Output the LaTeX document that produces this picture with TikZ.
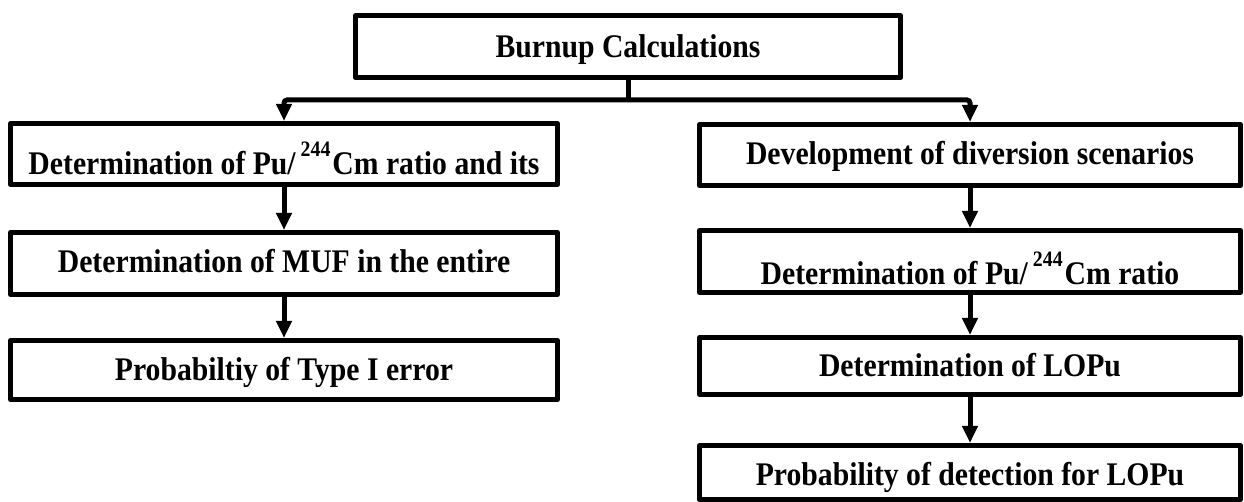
\documentclass[tikz,border=0pt]{standalone}
\usepackage{fontspec}
\setmainfont{Liberation Serif}[FakeStretch=0.9]
\usetikzlibrary{arrows.meta}
\newcommand\isotope[1]{\hspace{2.5pt}\raisebox{9pt}{\fontsize{11}{11}\selectfont #1}\hspace{1pt}}
\tikzset{
  box/.style={draw, line width=2.5pt, line join=round, inner sep=0pt, align=center,
    font=\fontsize{16.5pt}{18pt}\selectfont\bfseries, text depth=0pt, text height=10pt},
  lbox/.style={box, minimum width=273.5pt},
  rbox/.style={box, minimum width=270.5pt},
  conn/.style={line width=2.5pt, rounded corners=1.5pt},
  arr/.style={conn, -{Triangle[length=8.5pt,width=7.5pt]}},
}
\begin{document}
\begin{tikzpicture}[x=0.5pt,y=-0.5pt]
\useasboundingbox (0,0) rectangle (1244,502);
\node[box, minimum width=272.5pt, minimum height=31pt, text height=11pt] (top) at (628,46.5) {Burnup Calculations};
\node[lbox, minimum height=30.5pt, text height=21pt] (b1) at (284,154) {Determination of Pu/\isotope{244}Cm ratio and its};
\node[lbox, minimum height=31pt, text height=9.5pt] (b2) at (284,263.5) {Determination of MUF in the entire};
\node[lbox, minimum height=29.5pt, text height=11pt] (b3) at (284,370) {Probabiltiy of Type I error};
\node[rbox, minimum height=30.5pt] (r1) at (970,155) {Development of diversion scenarios};
\node[rbox, minimum height=31pt, text height=23.5pt] (r2) at (970,261.5) {Determination of Pu/\isotope{244}Cm ratio};
\node[rbox, minimum height=28.5pt, text height=11pt] (r3) at (970,366) {Determination of LOPu};
\node[rbox, minimum height=27pt, text height=13.5pt] (r4) at (970,472.5) {Probability of detection for LOPu};
\coordinate (j) at (628,100);
\draw[conn] (top.south) -- (j);
\draw[arr] (j) -| (b1.north);
\draw[arr] (j) -| (r1.north);
\draw[arr] (b1.south) -- (b2.north);
\draw[arr] (b2.south) -- (b3.north);
\draw[arr] (r1.south) -- (r2.north);
\draw[arr] (r2.south) -- (r3.north);
\draw[arr] (r3.south) -- (r4.north);
\end{tikzpicture}
\end{document}
